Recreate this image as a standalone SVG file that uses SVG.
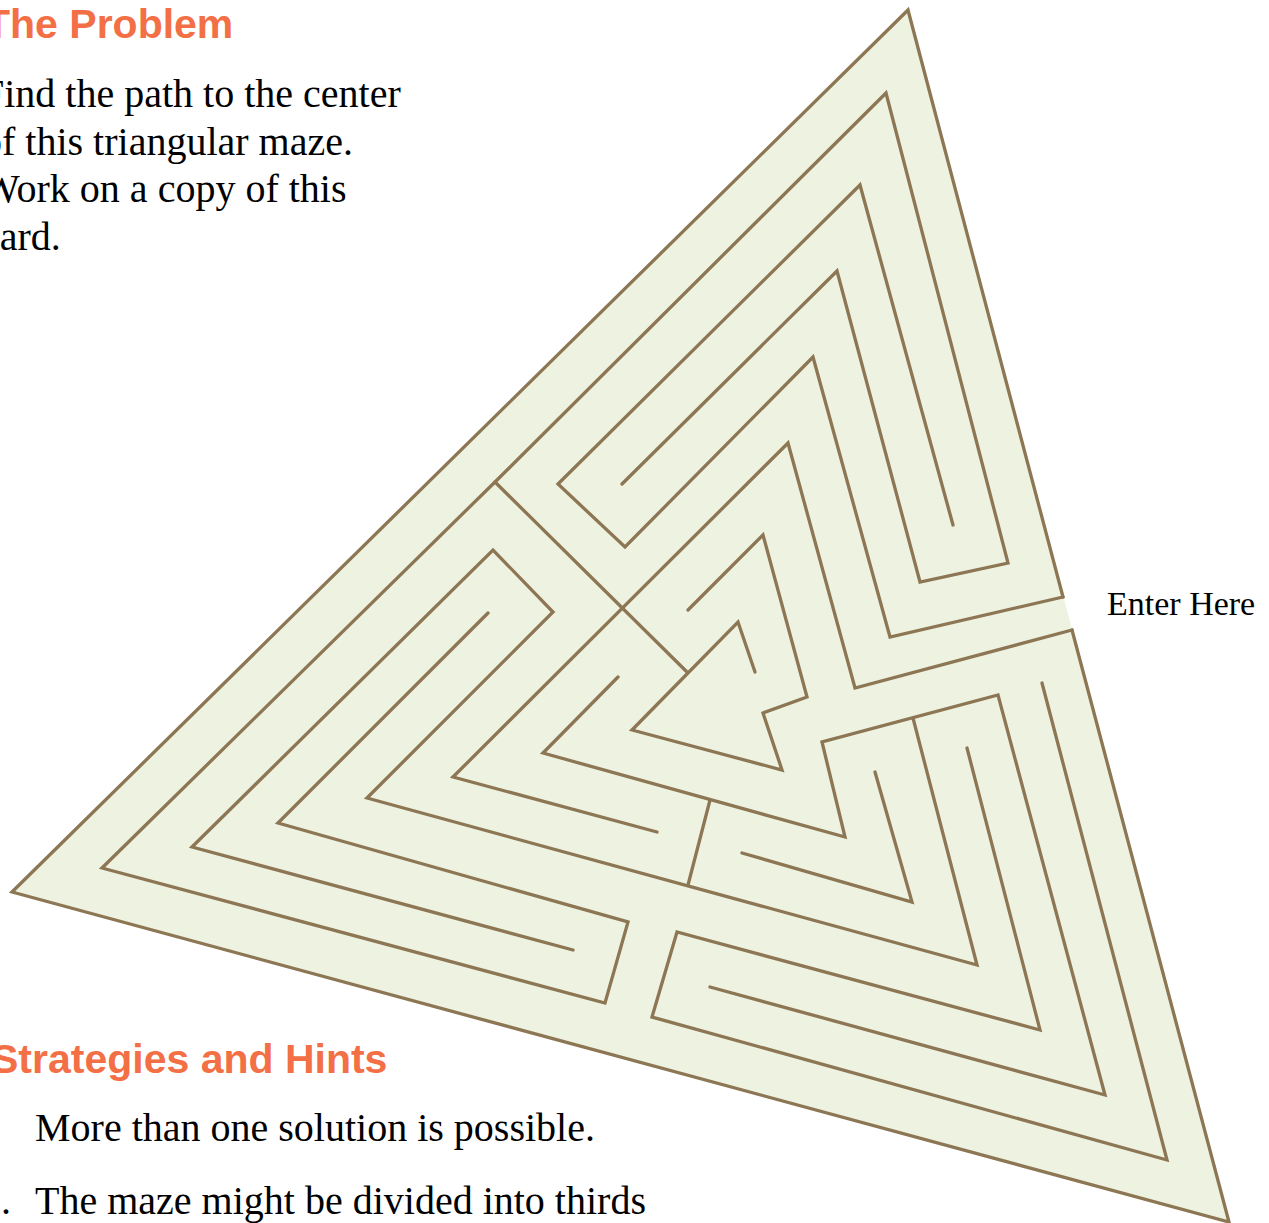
<svg xmlns="http://www.w3.org/2000/svg" width="1269" height="1223" viewBox="0 0 1269 1223">
<style>
.wall{fill:none;stroke:#8c7654;stroke-width:3.3;stroke-linejoin:miter;stroke-linecap:round}
.head{font-family:"Liberation Sans",Arial,sans-serif;font-weight:bold;font-size:41px;fill:#f36f45}
.body{font-family:"Liberation Serif","Times New Roman",serif;font-size:40px;fill:#000}
.label{font-family:"Liberation Serif","Times New Roman",serif;font-size:34px;fill:#000}
</style>
<rect width="1269" height="1223" fill="#ffffff"/>
<g id="maze">
  <polygon id="maze-floor" points="908,10 12,892 1229,1222" fill="#eef2e0"/>
  <g id="walls">
    <path id="outer-wall" class="wall" d="M1063,597 L908,10 L12,892 L1229,1222 L1072,630"/>
    <path id="ring2" class="wall" d="M622,484 L837,271 L920,582 L1008,563 L886,93 L495,482 L102,868 L605,1003 L628,922 L278,823 L488,613"/>
    <path id="ring3-top" class="wall" d="M953,525 L860,185 L558,484 L625,547 L813,357 L890,637 L1063,597"/>
    <path id="ring3-left" class="wall" d="M573,950 L192,847 L493,550 L553,612 L367,798 L977,965 L913,718"/>
    <path id="ring7-link" class="wall" d="M618,677 L543,753 L845,837 L822,742 L998,695 L1105,1095 L710,987"/>
    <path id="ring6" class="wall" d="M1072,630 L855,688 L788,443 L453,777 L657,832"/>
    <path id="ring6-right" class="wall" d="M742,853 L912,902 L875,772"/>
    <path id="ring2-right" class="wall" d="M1042,683 L1167,1160 L652,1017 L677,932 L1040,1030 L967,748"/>
    <path id="divider-diagonal" class="wall" d="M495,482 L687,672"/>
    <path id="divider-short" class="wall" d="M710,800 L688,885"/>
    <path id="center" class="wall" d="M688,610 L763,535 L807,697 L763,713 L782,770 L632,730 L738,622 L755,672"/>
  </g>
</g>
<g id="texts">
  <text id="title-problem" class="head" x="-15" y="38">The Problem</text>
  <text class="body" x="-18" y="107">Find the path to the center</text>
  <text class="body" x="-18" y="155">of this triangular maze.</text>
  <text class="body" x="-18" y="202">Work on a copy of this</text>
  <text class="body" x="-18" y="250">card.</text>
  <text id="title-hints" class="head" x="-9" y="1073">Strategies and Hints</text>
  <text class="body" x="35" y="1141">More than one solution is possible.</text>
  <text class="body" x="1" y="1214">.</text>
  <text class="body" x="35" y="1214">The maze might be divided into thirds</text>
  <text id="enter-label" class="label" x="1107" y="615">Enter Here</text>
</g>
</svg>
